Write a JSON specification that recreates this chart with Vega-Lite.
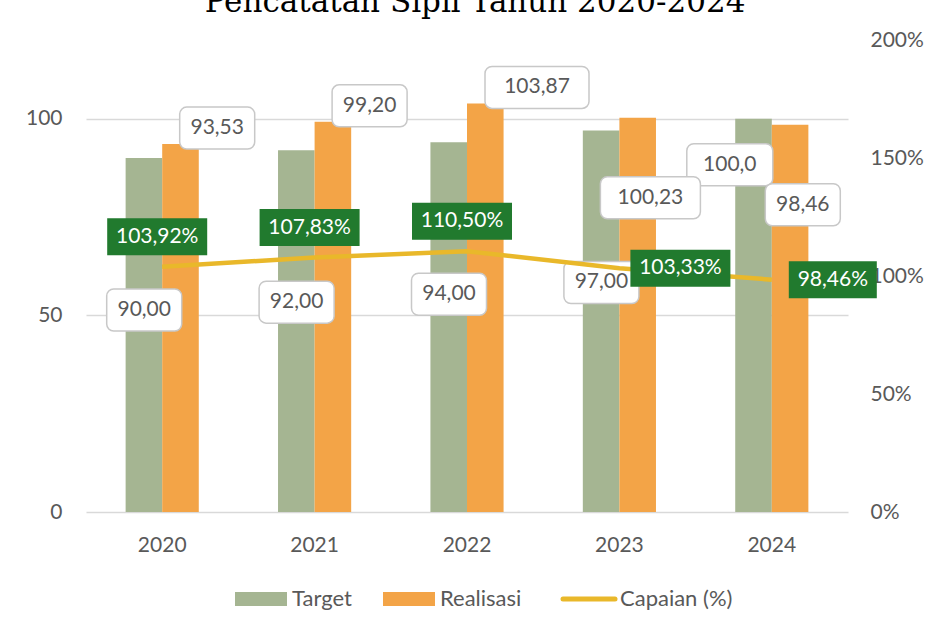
{
  "$schema": "https://vega.github.io/schema/vega-lite/v6.json",
  "width": 762,
  "height": 472,
  "autosize": "none",
  "padding": {"left": 86, "top": 40, "right": 81, "bottom": 116},
  "background": "white",
  "title": {"text": "Pencatatan Sipil Tahun 2020-2024", "font": "DejaVu Serif", "fontSize": 31, "fontWeight": "normal", "color": "#000000", "anchor": "middle", "offset": 10, "dx": 8},
  "data": {"values": [
    {"year": "2020", "Target": 90, "Realisasi": 93.53, "Capaian": 103.92, "t_label": "90,00", "r_label": "93,53", "c_label": "103,92%"},
    {"year": "2021", "Target": 92, "Realisasi": 99.2, "Capaian": 107.83, "t_label": "92,00", "r_label": "99,20", "c_label": "107,83%"},
    {"year": "2022", "Target": 94, "Realisasi": 103.87, "Capaian": 110.5, "t_label": "94,00", "r_label": "103,87", "c_label": "110,50%"},
    {"year": "2023", "Target": 97, "Realisasi": 100.23, "Capaian": 103.33, "t_label": "97,00", "r_label": "100,23", "c_label": "103,33%"},
    {"year": "2024", "Target": 100, "Realisasi": 98.46, "Capaian": 98.46, "t_label": "100,0", "r_label": "98,46", "c_label": "98,46%"}
  ]},
  "config": {"view": {"stroke": null}, "font": "Lato"},
  "layer": [
    {
      "layer": [
        {
          "transform": [{"fold": ["Target", "Realisasi"], "as": ["series", "value"]}],
          "mark": {"type": "bar"},
          "encoding": {
            "x": {"field": "year", "type": "ordinal", "title": null, "scale": {"paddingInner": 0.52, "paddingOuter": 0.26},
                  "axis": {"title": null, "labelAngle": 0, "labelFontSize": 21, "labelColor": "#595959", "domain": false, "ticks": false, "tickSize": 0, "labelPadding": 22}},
            "xOffset": {"field": "series", "type": "nominal", "sort": ["Target", "Realisasi"], "scale": {"paddingInner": 0, "paddingOuter": 0}},
            "y": {"field": "value", "type": "quantitative", "title": null, "scale": {"domain": [0, 120], "nice": false},
                  "axis": {"title": null, "values": [0, 50, 100], "grid": true, "gridColor": "#D9D9D9", "gridWidth": 1.5, "domain": false, "ticks": false, "tickSize": 0, "labelPadding": 24, "labelFontSize": 21, "labelColor": "#595959"}},
            "color": {"field": "series", "type": "nominal",
                      "scale": {"domain": ["Target", "Realisasi", "Capaian (%)"], "range": ["#A5B592", "#F3A447", "#E9B82A"]},
                      "legend": {"orient": "none", "legendX": 164, "legendY": 548, "direction": "horizontal", "title": null,
                                 "labelFontSize": 22, "labelColor": "#595959", "labelFont": "Lato",
                                 "symbolSize": 2704, "symbolType": "M-1,-0.27H1V0.27H-1Z", "labelOffset": 20, "columnPadding": 31,
                                 "encode": {"symbols": {"update": {
                                   "shape": {"signal": "datum.value === 'Capaian (%)' ? 'M-1,0H1' : 'M-1,-0.27H1V0.27H-1Z'"},
                                   "fill": {"signal": "datum.value === 'Target' ? '#A5B592' : datum.value === 'Realisasi' ? '#F3A447' : 'transparent'"},
                                   "stroke": {"signal": "datum.value === 'Capaian (%)' ? '#E9B82A' : 'transparent'"},
                                   "strokeWidth": {"signal": "datum.value === 'Capaian (%)' ? 5 : 0"},
                                   "strokeCap": {"value": "round"},
                                   "size": {"value": 2704},
                                   "opacity": {"value": 1}
                                 }}}}}
          }
        },
        {
          "transform": [{"filter": "datum.year != '2024'"}],
          "mark": {"type": "rect", "fill": "white", "stroke": "#C8C8C8", "strokeWidth": 1.5, "cornerRadius": 7, "width": 75, "xOffset": -18, "yOffset": 131, "y2Offset": 173},
          "encoding": {
            "x": {"field": "year", "type": "ordinal", "title": null},
            "y": {"field": "Target", "type": "quantitative", "title": null},
            "y2": {"field": "Target"}
          }
        },
        {
          "transform": [{"filter": "datum.year != '2024'"}],
          "mark": {"type": "text", "dx": -18, "dy": 152, "fontSize": 21, "fill": "#595959", "baseline": "middle", "align": "center"},
          "encoding": {
            "x": {"field": "year", "type": "ordinal", "title": null},
            "y": {"field": "Target", "type": "quantitative", "title": null},
            "text": {"field": "t_label"}
          }
        },
        {
          "transform": [{"filter": "datum.year == '2024'"}],
          "mark": {"type": "rect", "fill": "white", "stroke": "#C8C8C8", "strokeWidth": 1.5, "cornerRadius": 7, "width": 86, "xOffset": -42, "yOffset": 25, "y2Offset": 67},
          "encoding": {
            "x": {"field": "year", "type": "ordinal", "title": null},
            "y": {"field": "Target", "type": "quantitative", "title": null},
            "y2": {"field": "Target"}
          }
        },
        {
          "transform": [{"filter": "datum.year == '2024'"}],
          "mark": {"type": "text", "dx": -42, "dy": 46, "fontSize": 21, "fill": "#595959", "baseline": "middle", "align": "center"},
          "encoding": {
            "x": {"field": "year", "type": "ordinal", "title": null},
            "y": {"field": "Target", "type": "quantitative", "title": null},
            "text": {"field": "t_label"}
          }
        },
        {
          "transform": [{"filter": "datum.year <= '2022'"}],
          "mark": {"type": "rect", "fill": "white", "stroke": "#C8C8C8", "strokeWidth": 1.5, "cornerRadius": 7,
                   "width": {"expr": "length(datum.r_label) > 5 ? 104 : 75"},
                   "xOffset": {"expr": "length(datum.r_label) > 5 ? 70 : 55"}, "yOffset": -37, "y2Offset": 5},
          "encoding": {
            "x": {"field": "year", "type": "ordinal", "title": null},
            "y": {"field": "Realisasi", "type": "quantitative", "title": null},
            "y2": {"field": "Realisasi"}
          }
        },
        {
          "transform": [{"filter": "datum.year <= '2022'"}],
          "mark": {"type": "text", "dx": {"expr": "length(datum.r_label) > 5 ? 70 : 55"}, "dy": -16, "fontSize": 21, "fill": "#595959", "baseline": "middle", "align": "center"},
          "encoding": {
            "x": {"field": "year", "type": "ordinal", "title": null},
            "y": {"field": "Realisasi", "type": "quantitative", "title": null},
            "text": {"field": "r_label"}
          }
        },
        {
          "transform": [{"filter": "datum.year > '2022'"}],
          "mark": {"type": "rect", "fill": "white", "stroke": "#C8C8C8", "strokeWidth": 1.5, "cornerRadius": 7,
                   "width": {"expr": "length(datum.r_label) > 5 ? 100 : 75"},
                   "xOffset": 31, "yOffset": 59, "y2Offset": 101},
          "encoding": {
            "x": {"field": "year", "type": "ordinal", "title": null},
            "y": {"field": "Realisasi", "type": "quantitative", "title": null},
            "y2": {"field": "Realisasi"}
          }
        },
        {
          "transform": [{"filter": "datum.year > '2022'"}],
          "mark": {"type": "text", "dx": 31, "dy": 80, "fontSize": 21, "fill": "#595959", "baseline": "middle", "align": "center"},
          "encoding": {
            "x": {"field": "year", "type": "ordinal", "title": null},
            "y": {"field": "Realisasi", "type": "quantitative", "title": null},
            "text": {"field": "r_label"}
          }
        }
      ]
    },
    {
      "layer": [
        {
          "mark": {"type": "line", "strokeWidth": 4.5},
          "encoding": {
            "x": {"field": "year", "type": "ordinal", "title": null},
            "y": {"field": "Capaian", "type": "quantitative", "title": null, "scale": {"domain": [0, 200], "nice": false},
                  "axis": {"orient": "right", "title": null, "values": [0, 50, 100, 150, 200], "labelExpr": "datum.value + '%'", "grid": false, "domain": false, "ticks": false, "tickSize": 0, "labelPadding": 22, "labelFontSize": 21, "labelColor": "#595959"}},
            "color": {"datum": "Capaian (%)"}
          }
        },
        {
          "transform": [{"filter": "datum.year <= '2022'"}],
          "mark": {"type": "rect", "fill": "#217A2E", "width": 100, "xOffset": -5, "yOffset": -48.5, "y2Offset": -11.5},
          "encoding": {
            "x": {"field": "year", "type": "ordinal", "title": null},
            "y": {"field": "Capaian", "type": "quantitative", "title": null},
            "y2": {"field": "Capaian"}
          }
        },
        {
          "transform": [{"filter": "datum.year <= '2022'"}],
          "mark": {"type": "text", "dx": -5, "dy": -30, "fontSize": 21, "fill": "white", "baseline": "middle", "align": "center"},
          "encoding": {
            "x": {"field": "year", "type": "ordinal", "title": null},
            "y": {"field": "Capaian", "type": "quantitative", "title": null},
            "text": {"field": "c_label"}
          }
        },
        {
          "transform": [{"filter": "datum.year > '2022'"}],
          "mark": {"type": "rect", "fill": "#217A2E", "width": {"expr": "length(datum.c_label) > 6 ? 100 : 88"}, "xOffset": 61, "yOffset": -18.5, "y2Offset": 18.5},
          "encoding": {
            "x": {"field": "year", "type": "ordinal", "title": null},
            "y": {"field": "Capaian", "type": "quantitative", "title": null},
            "y2": {"field": "Capaian"}
          }
        },
        {
          "transform": [{"filter": "datum.year > '2022'"}],
          "mark": {"type": "text", "dx": 61, "dy": 0, "fontSize": 21, "fill": "white", "baseline": "middle", "align": "center"},
          "encoding": {
            "x": {"field": "year", "type": "ordinal", "title": null},
            "y": {"field": "Capaian", "type": "quantitative", "title": null},
            "text": {"field": "c_label"}
          }
        }
      ]
    }
  ],
  "resolve": {"scale": {"y": "independent"}}
}
